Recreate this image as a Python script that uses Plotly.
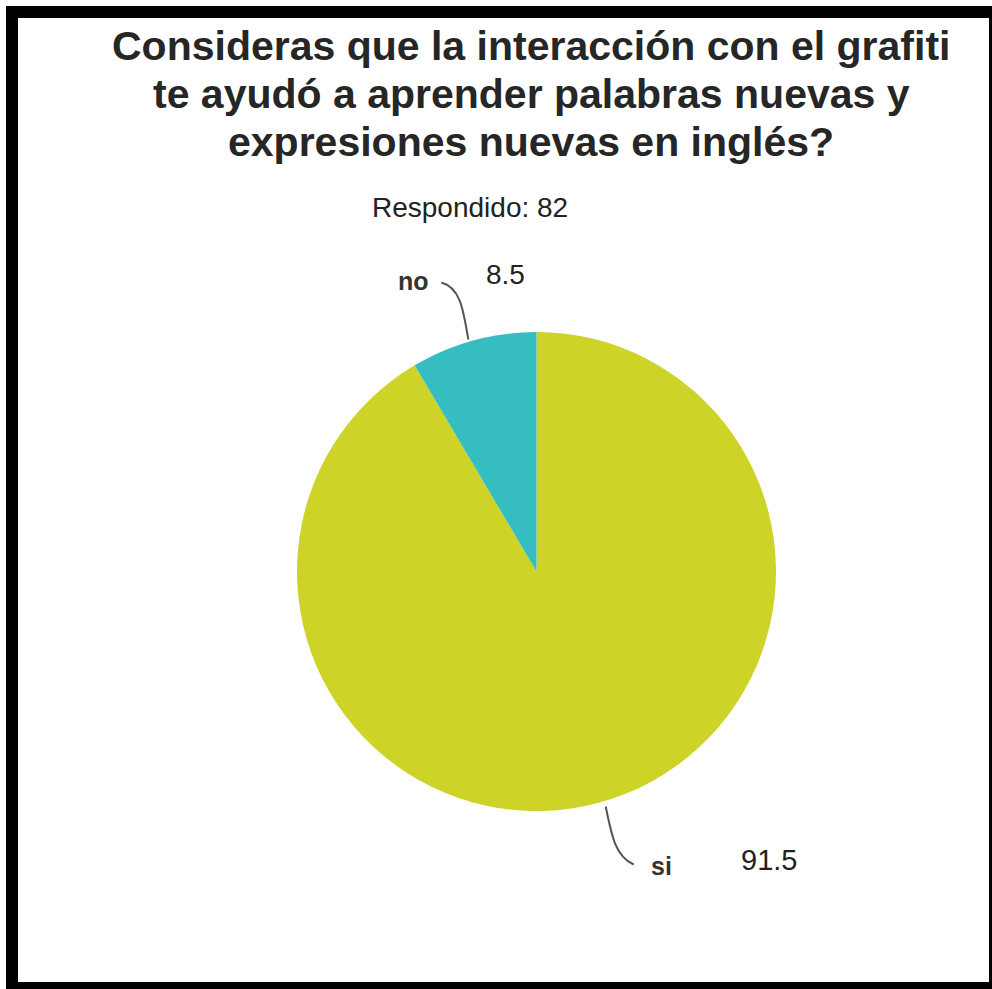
import math
import plotly.graph_objects as go

# ---- data ----
labels = ["si", "no"]
values = [91.5, 8.5]
colors = ["#CDD327", "#35BDBF"]
title_lines = ["Consideras que la interacción con el grafiti",
               "te ayudó a aprender palabras nuevas y",
               "expresiones nuevas en inglés?"]
subtitle = "Respondido: 82"

W, H = 992, 989
cx, cy, R = 536.5, 571.5, 239.5

fig = go.Figure()
fig.add_trace(go.Pie(
    labels=labels, values=values, sort=False, direction="clockwise", rotation=0,
    marker=dict(colors=colors, line=dict(width=0)),
    textinfo="none", hoverinfo="label+value", showlegend=False,
    domain=dict(x=[(cx - R) / W, (cx + R) / W], y=[(H - cy - R) / H, (H - cy + R) / H]),
))

# hidden pixel-space axes for annotations/shapes
fig.update_xaxes(range=[0, W], visible=False, fixedrange=True)
fig.update_yaxes(range=[H, 0], visible=False, fixedrange=True)

shapes = []
annotations = []
# frame
shapes.append(dict(type="rect", xref="x", yref="y", x0=12, y0=12, x1=995, y1=988,
                   line=dict(color="black", width=12), fillcolor="rgba(0,0,0,0)"))

total = sum(values)
start = 0.0
for lab, val in zip(labels, values):
    mid = start + val / 2
    start += val
    ang = math.radians(360 * mid / total)
    px, py = cx + R * math.sin(ang), cy - R * math.cos(ang)
    if py < cy:  # upper label (no)
        x0, y0 = px - 5, py - 1
        path = f"M {x0} {y0} C {x0-5} {y0-30}, {x0-8} {y0-52}, {x0-27} {y0-57}"
        annotations.append(dict(x=x0 - 55, y=y0 - 58, text=f"<b>{lab}</b>", showarrow=False,
                                font=dict(size=25, color="#333333")))
        annotations.append(dict(x=x0 + 37, y=y0 - 65, text=f"{val}", showarrow=False,
                                font=dict(size=28, color="#222222")))
    else:
        x0, y0 = px + 6, py + 4
        path = f"M {x0} {y0} C {x0+6} {y0+30}, {x0+10} {y0+50}, {x0+28} {y0+58}"
        annotations.append(dict(x=x0 + 56, y=y0 + 59, text=f"<b>{lab}</b>", showarrow=False,
                                font=dict(size=25, color="#333333")))
        annotations.append(dict(x=x0 + 163, y=y0 + 53, text=f"{val}", showarrow=False,
                                font=dict(size=29, color="#222222")))
    shapes.append(dict(type="path", xref="x", yref="y", path=path,
                       line=dict(color="#555555", width=2)))

for i, t in enumerate(title_lines):
    annotations.append(dict(x=531, y=46 + i * 48, text=f"<b>{t}</b>", showarrow=False,
                            font=dict(size=41, color="#262626")))
annotations.append(dict(x=470, y=207, text=subtitle, showarrow=False,
                        font=dict(size=28, color="#222222")))
for a in annotations:
    a.update(xref="x", yref="y")

fig.update_layout(
    width=W, height=H, margin=dict(l=0, r=0, t=0, b=0),
    paper_bgcolor="white", plot_bgcolor="rgba(0,0,0,0)",
    font=dict(family="Liberation Sans, Arial, sans-serif"),
    shapes=shapes, annotations=annotations,
)
fig.write_html("out.html", config={"displayModeBar": False},
               post_script="document.body.style.margin='0';document.body.style.overflow='hidden';")
